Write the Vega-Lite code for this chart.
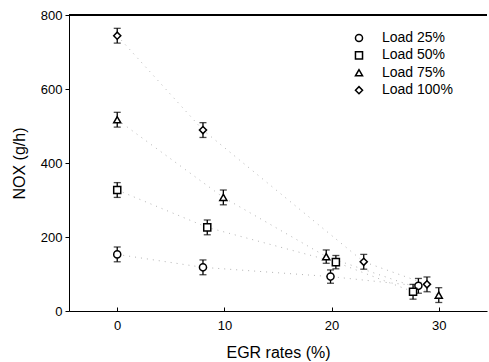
{
  "$schema": "https://vega.github.io/schema/vega-lite/v6.json",
  "width": 418,
  "height": 296,
  "autosize": {"type": "none"},
  "padding": {"left": 69, "top": 15, "right": 2, "bottom": 51},
  "background": "white",
  "config": {
    "view": {"stroke": null},
    "font": "Liberation Sans",
    "axis": {
      "grid": false,
      "domainColor": "black",
      "domainWidth": 1,
      "tickColor": "black",
      "labelColor": "black",
      "titleColor": "black",
      "labelFont": "Liberation Sans",
      "titleFont": "Liberation Sans",
      "labelFontSize": 13,
      "titleFontSize": 16,
      "titleFontWeight": "normal"
    },
    "legend": {
      "orient": "none",
      "legendX": 283,
      "legendY": 16,
      "padding": 0,
      "labelFont": "Liberation Sans",
      "labelFontSize": 14,
      "labelColor": "black",
      "labelOffset": 16,
      "rowPadding": 3.4,
      "symbolSize": 50
    }
  },
  "data": {
    "values": [
      {"load": "Load 25%", "egr": 0, "nox": 153, "lo": 133, "hi": 173},
      {"load": "Load 25%", "egr": 8.0, "nox": 118, "lo": 98, "hi": 138},
      {"load": "Load 25%", "egr": 19.9, "nox": 93, "lo": 75, "hi": 111},
      {"load": "Load 25%", "egr": 28.1, "nox": 68, "lo": 48, "hi": 88},
      {"load": "Load 50%", "egr": 0, "nox": 327, "lo": 307, "hi": 347},
      {"load": "Load 50%", "egr": 8.4, "nox": 226, "lo": 206, "hi": 246},
      {"load": "Load 50%", "egr": 20.4, "nox": 132, "lo": 114, "hi": 150},
      {"load": "Load 50%", "egr": 27.6, "nox": 52, "lo": 32, "hi": 72},
      {"load": "Load 75%", "egr": 0, "nox": 517, "lo": 497, "hi": 537},
      {"load": "Load 75%", "egr": 9.9, "nox": 307, "lo": 287, "hi": 327},
      {"load": "Load 75%", "egr": 19.5, "nox": 147, "lo": 129, "hi": 165},
      {"load": "Load 75%", "egr": 30.0, "nox": 43, "lo": 23, "hi": 63},
      {"load": "Load 100%", "egr": 0, "nox": 744, "lo": 724, "hi": 764},
      {"load": "Load 100%", "egr": 8.0, "nox": 489, "lo": 469, "hi": 509},
      {"load": "Load 100%", "egr": 23.0, "nox": 133, "lo": 113, "hi": 153},
      {"load": "Load 100%", "egr": 28.9, "nox": 72, "lo": 52, "hi": 92}
    ]
  },
  "layer": [
    {
      "mark": {"type": "line", "strokeDash": [1, 5], "color": "#b4b4b4", "strokeWidth": 1},
      "encoding": {
        "x": {
          "field": "egr",
          "type": "quantitative",
          "title": "EGR rates (%)",
          "scale": {"domain": [-4.5, 34.5], "nice": false, "zero": false},
          "axis": {"values": [0, 10, 20, 30], "tickSize": -4, "labelPadding": 12, "titlePadding": 12}
        },
        "y": {
          "field": "nox",
          "type": "quantitative",
          "title": "NOX (g/h)",
          "scale": {"domain": [0, 800], "nice": false},
          "axis": {"values": [0, 200, 400, 600, 800], "tickSize": 4, "labelPadding": 3, "titlePadding": 13}
        },
        "detail": {"field": "load"}
      }
    },
    {
      "mark": {"type": "rule", "color": "black", "strokeWidth": 1.3},
      "encoding": {
        "x": {"field": "egr", "type": "quantitative", "title": "EGR rates (%)"},
        "y": {"field": "lo", "type": "quantitative", "title": "NOX (g/h)"},
        "y2": {"field": "hi"}
      }
    },
    {
      "mark": {"type": "tick", "orient": "horizontal", "color": "black", "size": 7, "thickness": 1.3},
      "encoding": {
        "x": {"field": "egr", "type": "quantitative", "title": "EGR rates (%)"},
        "y": {"field": "lo", "type": "quantitative", "title": "NOX (g/h)"}
      }
    },
    {
      "mark": {"type": "tick", "orient": "horizontal", "color": "black", "size": 7, "thickness": 1.3},
      "encoding": {
        "x": {"field": "egr", "type": "quantitative", "title": "EGR rates (%)"},
        "y": {"field": "hi", "type": "quantitative", "title": "NOX (g/h)"}
      }
    },
    {
      "mark": {"type": "point", "filled": true, "fill": "white", "stroke": "black", "strokeWidth": 1.5, "size": 50, "opacity": 1},
      "encoding": {
        "x": {"field": "egr", "type": "quantitative", "title": "EGR rates (%)"},
        "y": {"field": "nox", "type": "quantitative", "title": "NOX (g/h)"},
        "shape": {
          "field": "load",
          "type": "nominal",
          "scale": {"domain": ["Load 25%", "Load 50%", "Load 75%", "Load 100%"], "range": ["circle", "square", "triangle-up", "diamond"]},
          "legend": {
            "title": null,
            "encode": {
              "symbols": {
                "update": {
                  "fill": {"value": "white"},
                  "stroke": {"value": "black"},
                  "strokeWidth": {"value": 1.5},
                  "opacity": {"value": 1},
                  "size": {"value": 50}
                }
              }
            }
          }
        }
      }
    },
    {
      "mark": {"type": "rule", "color": "black", "strokeWidth": 1},
      "encoding": {
        "y": {"datum": 800, "type": "quantitative"}
      }
    }
  ]
}
